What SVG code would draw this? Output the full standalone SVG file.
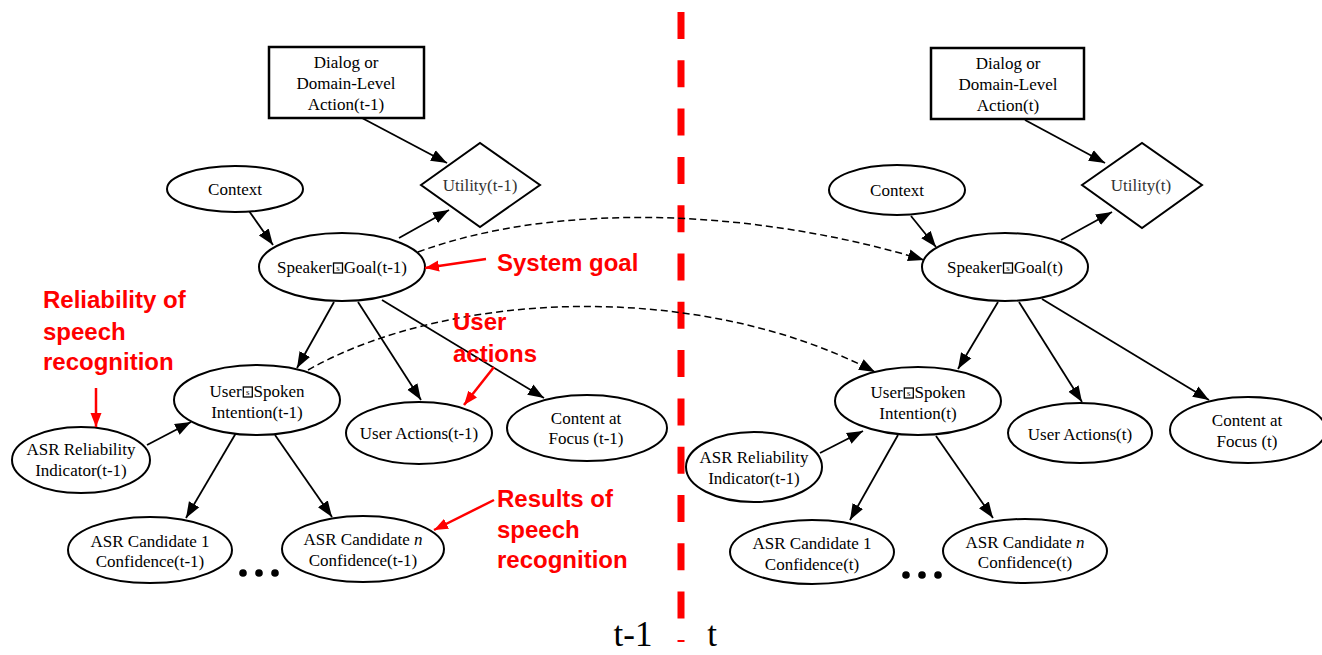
<svg xmlns="http://www.w3.org/2000/svg" width="1322" height="655" viewBox="0 0 1322 655">
<defs>
<marker id="ah" markerUnits="userSpaceOnUse" markerWidth="17" markerHeight="13" refX="16" refY="6.5" orient="auto"><path d="M0,0.5 L16,6.5 L0,12.5 z" fill="#000"/></marker>
<marker id="rah" markerUnits="userSpaceOnUse" markerWidth="15" markerHeight="12" refX="14" refY="6" orient="auto"><path d="M0,0.5 L14,6 L0,11.5 z" fill="#f00"/></marker>
<style>
.n{fill:#fff;stroke:#000;stroke-width:2}
.b{fill:#fff;stroke:#000;stroke-width:2.5}
.t{font-family:"Liberation Serif","Times New Roman",serif;font-size:17px;fill:#000;text-anchor:middle}
.ts{font-family:"Liberation Serif","Times New Roman",serif;font-size:17px;fill:#000}
.u{fill:#333}
.g{fill:none;stroke:#000;stroke-width:1.3}
.s{font-family:"Liberation Serif","Times New Roman",serif;font-size:9px;fill:#000;text-anchor:middle}
.e{fill:none;stroke:#000;stroke-width:1.8;marker-end:url(#ah)}
.d{fill:none;stroke:#000;stroke-width:1.5;stroke-dasharray:7 4;marker-end:url(#ah)}
.r{fill:none;stroke:#f00;stroke-width:2.5;marker-end:url(#rah)}
.rl{font-family:"Liberation Sans",Arial,sans-serif;font-size:24px;font-weight:bold;fill:#f00}
.big{font-family:"Liberation Serif","Times New Roman",serif;font-size:35px;fill:#000;text-anchor:middle}
</style>
</defs>
<rect width="1322" height="655" fill="#fff"/>

<line x1="681" y1="12" x2="681" y2="642" stroke="#f00" stroke-width="7" stroke-dasharray="27 21.3"/>

<g id="connectors">
<path class="e" d="M362,118 L447,163"/>
<path class="e" d="M249,211 L273,245"/>
<path class="e" d="M399,238 L449,210"/>
<path class="e" d="M334,302 L297,368"/>
<path class="e" d="M358,302 L421,400"/>
<path class="e" d="M382,300 L544,398"/>
<path class="e" d="M147,445 L191,422"/>
<path class="e" d="M236,433 L186,518"/>
<path class="e" d="M275,435 L332,517"/>
<path class="e" d="M1025,120 L1105,163"/>
<path class="e" d="M911,216 L936,247"/>
<path class="e" d="M1061,240 L1112,212"/>
<path class="e" d="M998,302 L958,369"/>
<path class="e" d="M1019,302 L1082,402"/>
<path class="e" d="M1042,299 L1209,400"/>
<path class="e" d="M820,453 L863,431"/>
<path class="e" d="M898,435 L850,520"/>
<path class="e" d="M936,436 L993,518"/>
<path class="d" d="M418,252 C560,200 760,210 924,260"/>
<path class="d" d="M308,370 C450,290 700,280 875,372"/>
</g>

<g id="dialog-l"><rect class="b" x="269" y="47" width="155" height="71"/>
<text class="t" x="346" y="68">Dialog or</text><text class="t" x="346" y="89">Domain-Level</text><text class="t" x="346" y="110">Action(t-1)</text></g>
<g id="utility-l"><polygon class="n" points="421,185 480,143 540,185 480,227"/><text class="t u" x="480" y="191">Utility(t-1)</text></g>
<g id="context-l"><ellipse class="n" cx="235" cy="189" rx="68" ry="23"/><text class="t" x="235" y="195">Context</text></g>
<g id="goal-l"><ellipse class="n" cx="342" cy="267" rx="83" ry="34"/>
<text class="ts" x="277" y="273">Speaker<tspan dx="12">Goal(t-1)</tspan></text>
<rect class="g" x="333.5" y="263" width="9" height="10"/><text class="s" x="338" y="271">s</text></g>
<g id="spoken-l"><ellipse class="n" cx="257" cy="400" rx="83" ry="35"/>
<text class="ts" x="209.5" y="397">User<tspan dx="12">Spoken</tspan></text>
<rect class="g" x="243.3" y="387" width="9" height="10"/><text class="s" x="247.8" y="395">s</text>
<text class="t" x="257" y="418">Intention(t-1)</text></g>
<g id="asrrel-l"><ellipse class="n" cx="81" cy="460" rx="69" ry="33"/><text class="t" x="81" y="455">ASR Reliability</text><text class="t" x="81" y="476">Indicator(t-1)</text></g>
<g id="actions-l"><ellipse class="n" cx="419" cy="433" rx="73" ry="31"/><text class="t" x="419" y="439">User Actions(t-1)</text></g>
<g id="content-l"><ellipse class="n" cx="587" cy="428" rx="80" ry="33"/><text class="t" x="586" y="424">Content at</text><text class="t" x="586" y="444">Focus (t-1)</text></g>
<g id="cand1-l"><ellipse class="n" cx="150" cy="550" rx="82" ry="33"/><text class="t" x="150" y="547">ASR Candidate 1</text><text class="t" x="150" y="567">Confidence(t-1)</text></g>
<g id="candn-l"><ellipse class="n" cx="363" cy="549" rx="81" ry="33"/><text class="t" x="363" y="545">ASR Candidate <tspan font-style="italic">n</tspan></text><text class="t" x="363" y="566">Confidence(t-1)</text></g>
<g id="dots-l"><circle cx="243" cy="573" r="3.8"/><circle cx="259" cy="573" r="3.8"/><circle cx="275" cy="573" r="3.8"/></g>

<g id="dialog-r"><rect class="b" x="931" y="48" width="153" height="71"/>
<text class="t" x="1008" y="69">Dialog or</text><text class="t" x="1008" y="90">Domain-Level</text><text class="t" x="1008" y="111">Action(t)</text></g>
<g id="utility-r"><polygon class="n" points="1082,185 1142,143 1202,185 1142,228"/><text class="t u" x="1141" y="191">Utility(t)</text></g>
<g id="context-r"><ellipse class="n" cx="897" cy="190" rx="68" ry="25"/><text class="t" x="897" y="196">Context</text></g>
<g id="goal-r"><ellipse class="n" cx="1005" cy="267" rx="83" ry="34"/>
<text class="ts" x="947" y="273">Speaker<tspan dx="12">Goal(t)</tspan></text>
<rect class="g" x="1003.5" y="263" width="9" height="10"/><text class="s" x="1008" y="271">s</text></g>
<g id="spoken-r"><ellipse class="n" cx="918" cy="401" rx="83" ry="34"/>
<text class="ts" x="870.5" y="398">User<tspan dx="12">Spoken</tspan></text>
<rect class="g" x="904.3" y="388" width="9" height="10"/><text class="s" x="908.8" y="396">s</text>
<text class="t" x="918" y="419">Intention(t)</text></g>
<g id="asrrel-r"><ellipse class="n" cx="754" cy="467" rx="68" ry="35"/><text class="t" x="754" y="463">ASR Reliability</text><text class="t" x="754" y="484">Indicator(t-1)</text></g>
<g id="actions-r"><ellipse class="n" cx="1080" cy="433" rx="72" ry="30"/><text class="t" x="1080" y="440">User Actions(t)</text></g>
<g id="content-r"><ellipse class="n" cx="1248" cy="430" rx="78" ry="33"/><text class="t" x="1247" y="426">Content at</text><text class="t" x="1247" y="447">Focus (t)</text></g>
<g id="cand1-r"><ellipse class="n" cx="812" cy="552" rx="82" ry="32"/><text class="t" x="812" y="549">ASR Candidate 1</text><text class="t" x="812" y="570">Confidence(t)</text></g>
<g id="candn-r"><ellipse class="n" cx="1025" cy="551" rx="82" ry="32"/><text class="t" x="1025" y="548">ASR Candidate <tspan font-style="italic">n</tspan></text><text class="t" x="1025" y="568">Confidence(t)</text></g>
<g id="dots-r"><circle cx="906" cy="575" r="3.8"/><circle cx="922" cy="575" r="3.8"/><circle cx="938" cy="575" r="3.8"/></g>

<g id="annotations">
<path class="r" d="M486,259 L425,268"/>
<path class="r" d="M96,388 L96,427"/>
<path class="r" d="M494,367 L464,405"/>
<path class="r" d="M494,500 L434,530"/>
<text class="rl" x="497" y="271">System goal</text>
<text class="rl" x="43" y="308">Reliability of</text>
<text class="rl" x="43" y="340">speech</text>
<text class="rl" x="43" y="370">recognition</text>
<text class="rl" x="453" y="330">User</text>
<text class="rl" x="453" y="362">actions</text>
<text class="rl" x="497" y="507">Results of</text>
<text class="rl" x="497" y="538">speech</text>
<text class="rl" x="497" y="568">recognition</text>
</g>
<text class="big" x="633" y="646">t-1</text>
<text class="big" x="712" y="646">t</text>
</svg>
